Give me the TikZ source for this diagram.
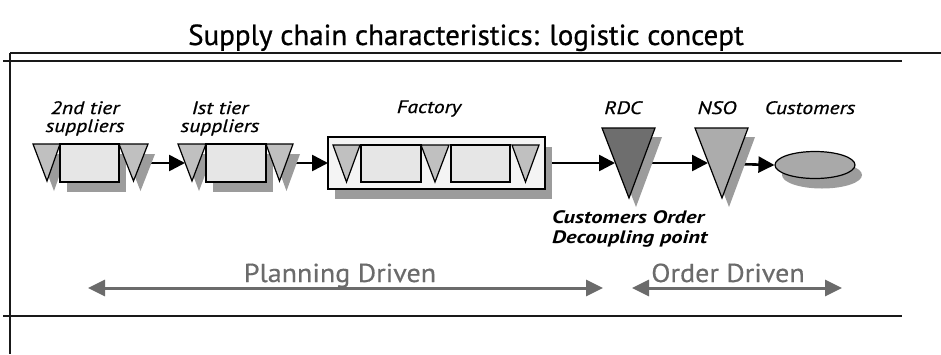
\documentclass[tikz,border=0pt]{standalone}
\usepackage{fontspec}
\setmainfont{PT Sans}
\newfontfamily\titlefont[FakeBold=0.7]{PT Sans}
\newfontfamily\lblfont[FakeStretch=1.2, FakeBold=0.8]{PT Sans}
\newfontfamily\codfont[FakeStretch=1.25]{PT Sans}
\newfontfamily\drivefont[FakeStretch=1.08, FakeBold=0.4]{PT Sans}
\usetikzlibrary{arrows.meta,shapes.geometric}
\definecolor{shadowgray}{HTML}{9C9C9C}
\definecolor{tierfill}{HTML}{C0C0C0}
\definecolor{boxfill}{HTML}{E6E6E6}
\definecolor{plantfill}{HTML}{F4F4F4}
\definecolor{rdcfill}{HTML}{6E6E6E}
\definecolor{nsofill}{HTML}{ACACAC}
\definecolor{custfill}{HTML}{A9A9A9}
\definecolor{drivegray}{HTML}{6B6B6B}
\tikzset{
  x=1pt, y=-1pt,
  outline/.style={draw=black, line width=1.2pt, line join=miter},
  shade/.style={fill=shadowgray, draw=none},
  flow/.style={draw=black, line width=2.6pt, -{Triangle[length=16pt,width=16pt]}},
  drive/.style={draw=drivegray, line width=3pt, {Triangle[length=17pt,width=16pt]}-{Triangle[length=17pt,width=16pt]}},
  frame/.style={draw=black!90, line width=1.5pt},
  lbl/.style={font=\lblfont\itshape\fontsize{18}{21}\selectfont, anchor=base, inner sep=0pt},
  cod/.style={font=\codfont\bfseries\itshape\fontsize{18}{21}\selectfont, anchor=base west, inner sep=0pt},
  bigtxt/.style={font=\drivefont\fontsize{26}{30}\selectfont, text=drivegray, anchor=base, inner sep=0pt},
}
\begin{document}
\begin{tikzpicture}
\useasboundingbox (0,0) rectangle (941,354);

% title
\node[font=\titlefont\fontsize{29}{34}\selectfont, anchor=base, inner sep=0pt] (title) at (466,45) {Supply chain characteristics: logistic concept};

% frame lines
\draw[frame, line width=2.2pt] (10,53) -- (941,53);
\draw[frame] (3,61) -- (902,61);
\draw[frame] (10,53) -- (10,354);
\draw[frame] (3,316) -- (902,316);

% connector end points
\coordinate (aOut) at (141,163);
\coordinate (bIn)  at (185,163);
\coordinate (bOut) at (286,163);
\coordinate (fIn)  at (328,163);
\coordinate (fOut) at (545,163);
\coordinate (rIn)  at (615,163);
\coordinate (rOut) at (642,163);
\coordinate (nIn)  at (708,163);
\coordinate (nOut) at (735,164);

% customers ellipse (node) and its shadow
\fill[shadowgray] (822,175) ellipse [x radius=40, y radius=13.5];
\node[ellipse, outline, fill=custfill, minimum width=80pt, minimum height=27pt, inner sep=0pt] (cust) at (815,165) {};

% flow connectors (behind the shapes)
\draw[flow] (aOut) -- (bIn);
\draw[flow] (bOut) -- (fIn);
\draw[flow] (fOut) -- (rIn);
\draw[flow] (rOut) -- (nIn);
\draw[flow] (nOut) -- (cust.west);

% 2nd tier suppliers
\fill[shade] (40,154) -- (67,154) -- (54,191) -- cycle;
\fill[shade] (67,154) rectangle (126,192);
\fill[shade] (126,154) -- (155,154) -- (140.5,191) -- cycle;
\draw[outline, fill=tierfill] (33,144) -- (60,144) -- (47,181) -- cycle;
\draw[outline, fill=boxfill] (60,144) rectangle (119,182);
\draw[outline, fill=tierfill] (119,144) -- (148,144) -- (133.5,181) -- cycle;

% 1st tier suppliers
\fill[shade] (185,154) -- (213,154) -- (199,191) -- cycle;
\fill[shade] (213,154) rectangle (273,192);
\fill[shade] (273,154) -- (300,154) -- (286.5,191) -- cycle;
\draw[outline, fill=tierfill] (178,144) -- (206,144) -- (192,181) -- cycle;
\draw[outline, fill=boxfill] (206,144) rectangle (266,182);
\draw[outline, fill=tierfill] (266,144) -- (293,144) -- (279.5,181) -- cycle;

% factory
\fill[shade] (335,147) rectangle (552,199);
\draw[outline, fill=plantfill] (328,137) rectangle (545,189);
\draw[outline, fill=tierfill] (333,145) -- (360,145) -- (346.5,182) -- cycle;
\draw[outline, fill=boxfill] (361,145) rectangle (421,182);
\draw[outline, fill=tierfill] (421,145) -- (449,145) -- (435,182) -- cycle;
\draw[outline, fill=boxfill] (451,145) rectangle (510,182);
\draw[outline, fill=tierfill] (512,145) -- (539,145) -- (525.5,182) -- cycle;

% RDC
\fill[shade] (609,137) -- (662,137) -- (636,207) -- cycle;
\draw[outline, fill=rdcfill] (602,128) -- (655,128) -- (629,198) -- cycle;

% NSO
\fill[shade] (702,137) -- (755,137) -- (729,207) -- cycle;
\draw[outline, fill=nsofill] (695,128) -- (748,128) -- (722,198) -- cycle;

% labels
\node[lbl] (l2a) at (85,114) {2nd tier};
\node[lbl] (l2b) at (85,132) {suppliers};
\node[lbl] (l1a) at (220,114) {Ist tier};
\node[lbl] (l1b) at (220,132) {suppliers};
\node[lbl] (lf)  at (429,113) {Factory};
\node[lbl] (lr)  at (623,114) {RDC};
\node[lbl] (ln)  at (717,114) {NSO};
\node[lbl] (lc)  at (810,114) {Customers};
\node[cod] (cod1) at (552,223) {Customers Order};
\node[cod] (cod2) at (552,243) {Decoupling point};

% planning / order driven ranges
\coordinate (pL) at (88,288);
\coordinate (pR) at (603,288);
\coordinate (oL) at (632,288);
\coordinate (oR) at (842,288);
\draw[drive] (pL) -- (pR);
\draw[drive] (oL) -- (oR);
\node[bigtxt] (plan) at (340,282) {Planning Driven};
\node[bigtxt] (ord)  at (728,282) {Order Driven};
\end{tikzpicture}
\end{document}
